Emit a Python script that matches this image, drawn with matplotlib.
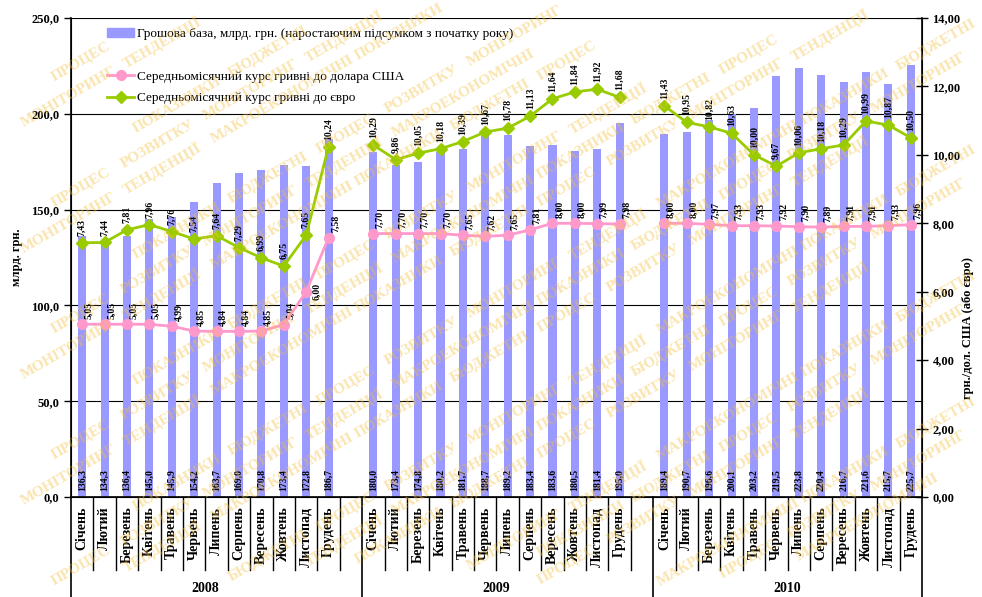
import matplotlib.pyplot as plt
from matplotlib.lines import Line2D
from matplotlib.patches import Patch
import numpy as np

plt.rcParams['font.family'] = ['Liberation Serif', 'DejaVu Serif']

months = ["Січень", "Лютий", "Березень", "Квітень", "Травень", "Червень",
          "Липень", "Серпень", "Вересень", "Жовтень", "Листопад", "Грудень"]
years = ["2008", "2009", "2010"]

base_2008 = [136.3, 134.3, 136.4, 145.0, 145.9, 154.2, 163.7, 169.0, 170.8, 173.4, 172.8, 186.7]
base_2009 = [180.0, 173.4, 174.8, 180.2, 181.7, 188.7, 189.2, 183.4, 183.6, 180.5, 181.4, 195.0]
base_2010 = [189.4, 190.7, 196.6, 200.1, 203.2, 219.5, 223.8, 220.4, 216.7, 221.6, 215.7, 225.7]

usd_2008 = [5.05, 5.05, 5.05, 5.05, 4.99, 4.85, 4.84, 4.84, 4.85, 5.04, 6.00, 7.58]
usd_2009 = [7.70, 7.70, 7.70, 7.70, 7.65, 7.62, 7.65, 7.81, 8.00, 8.00, 7.99, 7.98]
usd_2010 = [8.00, 8.00, 7.97, 7.93, 7.93, 7.92, 7.90, 7.89, 7.91, 7.91, 7.93, 7.96]

eur_2008 = [7.43, 7.44, 7.81, 7.96, 7.76, 7.54, 7.64, 7.29, 6.99, 6.75, 7.65, 10.24]
eur_2009 = [10.29, 9.86, 10.05, 10.18, 10.39, 10.67, 10.78, 11.13, 11.64, 11.84, 11.92, 11.68]
eur_2010 = [11.43, 10.95, 10.82, 10.63, 10.00, 9.67, 10.06, 10.18, 10.29, 10.99, 10.87, 10.50]

label_bar = "Грошова база, млрд. грн. (наростаючим підсумком з початку року)"
label_usd = "Середньомісячний курс гривні до долара США"
label_eur = "Середньомісячний курс гривні до євро"

watermark_words = ["МОНІТОРИНГ", "ТЕНДЕНЦІЇ", "МАКРОЕКОНОМІЧНІ", "ПОКАЗНИКИ",
                   "БЮДЖЕТНІ", "ПРОЦЕС", "РОЗВИТКУ"]

BAR_C = "#9999FF"
USD_C = "#FF99CC"
EUR_C = "#99CC00"


def comma(v, nd):
    return f"{v:.{nd}f}".replace(".", ",")


# слоти: 12 місяців + порожній слот між роками
bases = [base_2008, base_2009, base_2010]
usds = [usd_2008, usd_2009, usd_2010]
eurs = [eur_2008, eur_2009, eur_2010]

n_slots = 13 * 3 - 1
xs, base_all = [], []
usd_line = np.full(n_slots, np.nan)
eur_line = np.full(n_slots, np.nan)
for i in range(3):
    for j in range(12):
        k = i * 13 + j
        xs.append(k)
        base_all.append(bases[i][j])
        usd_line[k] = usds[i][j]
        eur_line[k] = eurs[i][j]
xs = np.array(xs)

fig = plt.figure(figsize=(9.82, 5.97), dpi=100)
ax = fig.add_axes([0.0723, 0.1675, 0.8666, 0.8023])
ax2 = ax.twinx()

ax.set_axisbelow(True)
ax.bar(xs, base_all, width=0.36, color=BAR_C, zorder=2)
for x, v in zip(xs, base_all):
    ax.text(x, 3, comma(v, 1), rotation=90, ha="center", va="bottom",
            fontsize=7, fontweight="bold", zorder=5)

ax.set_xlim(-0.5, n_slots - 0.5)
ax.set_ylim(0, 250)
ax.set_yticks(np.arange(0, 251, 50))
ax.set_yticklabels([comma(v, 1) for v in np.arange(0, 251, 50)],
                   fontsize=9, fontweight="bold")
ax.yaxis.grid(True, color="black", linewidth=0.8)
ax.tick_params(axis="y", direction="out", length=5, width=1)
ax.set_ylabel("млрд. грн.", fontsize=9, fontweight="bold", labelpad=6)

ax.set_xticks(xs)
ax.set_xticklabels(months * 3, rotation=90, fontsize=10, fontweight="bold")
ax.tick_params(axis="x", length=0, pad=7)
ax.spines["top"].set_visible(False)
ax2.spines["top"].set_visible(False)
ax.spines["left"].set_linewidth(1.2)
ax.spines["bottom"].set_linewidth(1.2)
ax2.spines["right"].set_linewidth(1.2)

# роздільники під віссю
trans = ax.get_xaxis_transform()
for b in range(n_slots + 1):
    xb = b - 0.5
    if b % 13 == 0 or b == n_slots:
        ax.plot([xb, xb], [0, -0.26], color="black", lw=1.2,
                transform=trans, clip_on=False, zorder=3)
    else:
        ax.plot([xb, xb], [0, -0.152], color="black", lw=1.0,
                transform=trans, clip_on=False, zorder=3)
for i, yr in enumerate(years):
    ax.text(i * 13 + 5.5, -0.19, yr, transform=trans, ha="center", va="center",
            fontsize=10, fontweight="bold")

ax2.plot(np.arange(n_slots), usd_line, color=USD_C, lw=2, marker="o",
         markersize=7, zorder=4)
ax2.plot(np.arange(n_slots), eur_line, color=EUR_C, lw=2, marker="D",
         markersize=6, zorder=4)
for k in range(n_slots):
    if np.isnan(usd_line[k]):
        continue
    if k == 10:
        # листопад 2008 - підпис праворуч від точки
        ax2.annotate(comma(usd_line[k], 2), (k, usd_line[k]), xytext=(8, 0),
                     textcoords="offset points", rotation=90, ha="center",
                     va="center", fontsize=7, fontweight="bold")
    else:
        ax2.annotate(comma(usd_line[k], 2), (k, usd_line[k]), xytext=(5, 4),
                     textcoords="offset points", rotation=90, ha="center",
                     va="bottom", fontsize=7, fontweight="bold")
    ax2.annotate(comma(eur_line[k], 2), (k, eur_line[k]), xytext=(0, 5),
                 textcoords="offset points", rotation=90, ha="center",
                 va="bottom", fontsize=7, fontweight="bold")

ax2.set_ylim(0, 14)
ax2.set_yticks(np.arange(0, 15, 2))
ax2.set_yticklabels([comma(v, 2) for v in np.arange(0, 15, 2)],
                    fontsize=9, fontweight="bold")
ax2.tick_params(axis="y", direction="inout", length=8, width=1)
fig.text(0.986, 0.45, "грн./дол. США (або євро)", rotation=90, ha="center",
         va="center", fontsize=9, fontweight="bold")

handles = [Patch(color=BAR_C),
           Line2D([], [], color="none"),
           Line2D([], [], color=USD_C, lw=2, marker="o", markersize=7),
           Line2D([], [], color=EUR_C, lw=2, marker="D", markersize=6)]
ax2.legend(handles, [label_bar, " ", label_usd, label_eur], loc="upper left",
           bbox_to_anchor=(0.028, 1.005), frameon=False, fontsize=9.5,
           handlelength=2.1, handletextpad=0.2, labelspacing=0.7)

# водяний знак: окремі слова по діагоналі, тільки ті, що вміщуються
renderer = fig.canvas.get_renderer()
W, H = fig.bbox.width, fig.bbox.height
ang = np.deg2rad(30)
dx, dy = np.cos(ang), np.sin(ang)
wi = 0
for r in range(-18, 16):
    px, py = -60.0 + (r % 3) * 25, 300 + r * 42.0
    while px < W + 50:
        word = watermark_words[wi % len(watermark_words)]
        wi += 1
        t = fig.text(px / W, py / H, word, rotation=30, rotation_mode="anchor",
                     ha="left", va="center", fontsize=11, fontweight="bold",
                     color="#F5C040", alpha=0.42, zorder=10)
        ext = t.get_window_extent(renderer)
        # довжина слова вздовж напрямку
        length = np.hypot(ext.width, ext.height) * 0.9
        if ext.x0 < 0 or ext.y0 < 0 or ext.x1 > W or ext.y1 > H:
            t.remove()
        step = length + 10
        px += step * dx
        py += step * dy

fig.savefig("out.png", dpi=100)
